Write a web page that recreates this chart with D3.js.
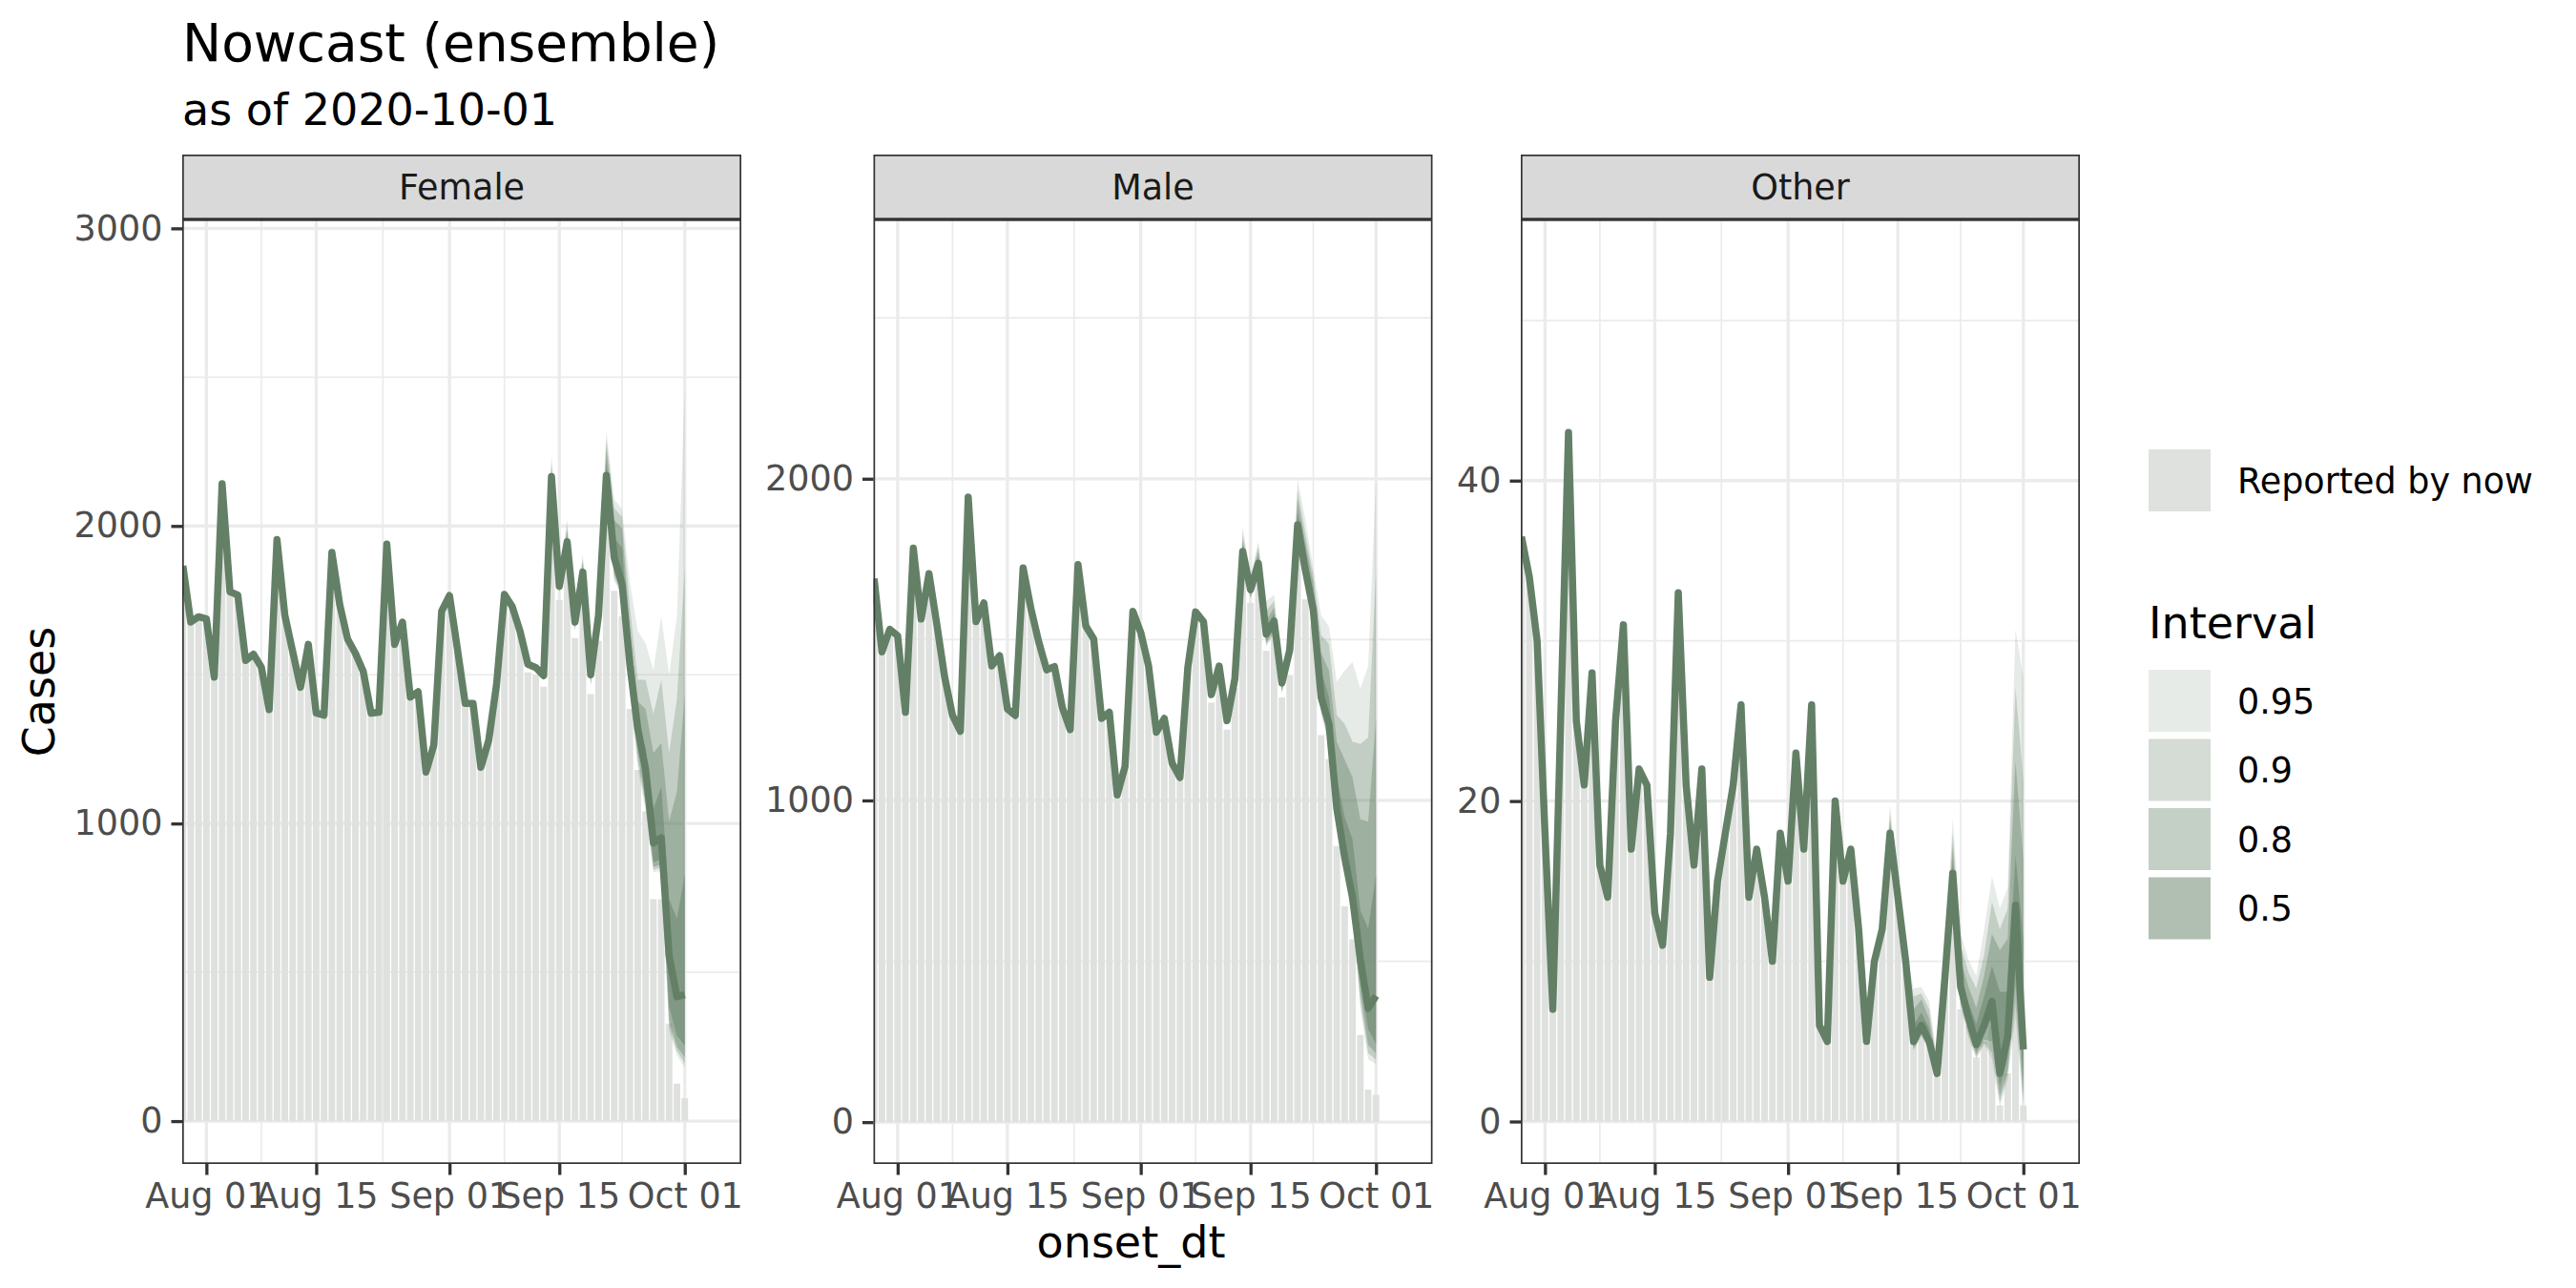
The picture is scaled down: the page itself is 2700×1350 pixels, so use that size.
<!DOCTYPE html>
<html>
<head>
<meta charset="utf-8">
<script src="https://cdn.jsdelivr.net/npm/d3@7"></script>
<style>
  body { margin: 0; background: #fff; }
  text { font-family: "DejaVu Sans", sans-serif; }
</style>
</head>
<body>
<svg id="chart" width="2700" height="1350"></svg>
<script>
// ---- data (one value per onset day, 2020-07-29 .. 2020-10-01) ----
const firstDay = '2020-07-29'
const lastDay = '2020-10-01'

const femaleNowcast = [
  1866, 1677, 1695, 1688, 1492, 2142, 1779, 1768, 1548, 1569, 1526, 1383, 1954, 1700, 1578, 1458,
  1602, 1371, 1364, 1911, 1736, 1620, 1572, 1511, 1371, 1374, 1939, 1602, 1677, 1425, 1443, 1173,
  1264, 1714, 1766, 1588, 1404, 1404, 1189, 1280, 1468, 1770, 1729, 1645, 1535, 1524, 1497, 2166,
  1797, 1947, 1677, 1845, 1500, 1700, 2170, 1893, 1805, 1533, 1320, 1182, 935, 952, 555, 418, 425
]
const femaleReported = [
  1866, 1677, 1695, 1688, 1492, 2142, 1779, 1768, 1548, 1569, 1526, 1383, 1954, 1700, 1578, 1458,
  1602, 1371, 1364, 1911, 1736, 1620, 1572, 1511, 1371, 1374, 1939, 1602, 1677, 1425, 1443, 1173,
  1264, 1714, 1766, 1588, 1404, 1404, 1189, 1280, 1468, 1770, 1729, 1645, 1508, 1500, 1460, 2125,
  1751, 1900, 1623, 1790, 1435, 1614, 2060, 1782, 1696, 1385, 1180, 1041, 746, 746, 328, 126, 77
]
const maleNowcast = [
  1690, 1462, 1532, 1512, 1274, 1784, 1564, 1705, 1547, 1383, 1264, 1215, 1943, 1556, 1614, 1418,
  1450, 1284, 1264, 1723, 1596, 1492, 1406, 1416, 1289, 1220, 1733, 1542, 1502, 1255, 1274, 1017,
  1106, 1588, 1522, 1418, 1212, 1255, 1116, 1071, 1413, 1586, 1556, 1329, 1418, 1248, 1378, 1774,
  1655, 1737, 1517, 1558, 1365, 1467, 1857, 1715, 1592, 1320, 1238, 975, 823, 699, 506, 354, 393
]
const maleReported = [
  1690, 1462, 1532, 1512, 1274, 1784, 1564, 1705, 1547, 1383, 1264, 1215, 1943, 1556, 1614, 1418,
  1450, 1284, 1264, 1723, 1596, 1492, 1406, 1416, 1289, 1220, 1733, 1542, 1502, 1255, 1274, 1017,
  1106, 1588, 1522, 1418, 1212, 1255, 1116, 1071, 1413, 1586, 1556, 1304, 1395, 1220, 1350, 1740,
  1614, 1700, 1465, 1520, 1320, 1390, 1790, 1625, 1546, 1203, 1129, 858, 671, 568, 271, 101, 85
]
const otherNowcast = [
  36.5, 34, 30, 18, 7, 25, 43, 25, 21, 28, 16, 14, 25, 31, 17, 22,
  21, 13, 11, 18, 33, 21, 16, 22, 9, 15, 18, 21, 26, 14, 17, 14,
  10, 18, 15, 23, 17, 26, 6, 5, 20, 15, 17, 12, 5, 10, 12, 18,
  14, 10, 5, 6, 5, 3, 9, 15.5, 8.4, 6.5, 4.8, 6, 7.5, 3, 5.3, 13.5, 4.5
]
const otherReported = [
  36.5, 34, 30, 18, 7, 25, 43, 25, 21, 28, 16, 14, 25, 31, 17, 22,
  21, 13, 11, 18, 33, 21, 16, 22, 9, 15, 18, 21, 26, 14, 17, 14,
  10, 18, 15, 23, 17, 26, 6, 5, 20, 15, 17, 12, 5, 10, 12, 18,
  14, 10, 5, 6, 5, 3, 9, 14, 7, 6, 4, 5, 6, 1, 3, 10, 1
]

// interval rows: date, lo95, lo90, lo80, lo50, hi50, hi80, hi90, hi95
const femaleIntervals = [
  ['2020-09-13', 1490, 1492, 1494, 1495, 1500, 1502, 1504, 1507],
  ['2020-09-14', 2125, 2130, 2140, 2150, 2185, 2200, 2220, 2240],
  ['2020-09-15', 1772, 1778, 1783, 1790, 1805, 1812, 1820, 1830],
  ['2020-09-16', 1908, 1915, 1922, 1932, 1965, 1985, 2000, 2020],
  ['2020-09-17', 1645, 1652, 1657, 1665, 1690, 1700, 1710, 1720],
  ['2020-09-18', 1805, 1812, 1820, 1830, 1862, 1878, 1890, 1905],
  ['2020-09-19', 1460, 1468, 1475, 1485, 1517, 1532, 1545, 1560],
  ['2020-09-20', 1650, 1660, 1668, 1680, 1722, 1745, 1760, 1775],
  ['2020-09-21', 2090, 2100, 2115, 2135, 2215, 2260, 2290, 2320],
  ['2020-09-22', 1815, 1825, 1840, 1860, 1960, 2020, 2060, 2090],
  ['2020-09-23', 1765, 1770, 1775, 1785, 1926, 1991, 2030, 2057],
  ['2020-09-24', 1434, 1450, 1465, 1490, 1580, 1650, 1729, 1811],
  ['2020-09-25', 1188, 1210, 1235, 1275, 1345, 1410, 1483, 1647],
  ['2020-09-26', 1041, 1058, 1075, 1106, 1254, 1385, 1483, 1606],
  ['2020-09-27', 836, 845, 855, 870, 1049, 1237, 1368, 1516],
  ['2020-09-28', 840, 852, 862, 880, 1123, 1270, 1483, 1696],
  ['2020-09-29', 303, 320, 340, 385, 746, 1008, 1237, 1500],
  ['2020-09-30', 221, 235, 250, 287, 680, 1106, 1418, 1696],
  ['2020-10-01', 180, 195, 215, 254, 828, 1434, 1860, 2467]
]
const maleIntervals = [
  ['2020-09-13', 1372, 1374, 1375, 1376, 1381, 1383, 1385, 1388],
  ['2020-09-14', 1730, 1738, 1745, 1755, 1795, 1810, 1830, 1850],
  ['2020-09-15', 1625, 1630, 1635, 1642, 1668, 1680, 1690, 1700],
  ['2020-09-16', 1700, 1706, 1712, 1720, 1755, 1775, 1790, 1805],
  ['2020-09-17', 1478, 1484, 1490, 1500, 1538, 1560, 1590, 1620],
  ['2020-09-18', 1515, 1522, 1530, 1540, 1580, 1600, 1620, 1640],
  ['2020-09-19', 1330, 1336, 1342, 1350, 1380, 1392, 1405, 1420],
  ['2020-09-20', 1428, 1435, 1440, 1450, 1485, 1500, 1515, 1530],
  ['2020-09-21', 1790, 1800, 1810, 1825, 1895, 1935, 1965, 2000],
  ['2020-09-22', 1655, 1665, 1675, 1690, 1760, 1800, 1830, 1873],
  ['2020-09-23', 1545, 1552, 1560, 1570, 1635, 1675, 1700, 1721],
  ['2020-09-24', 1265, 1275, 1285, 1300, 1403, 1459, 1514, 1576],
  ['2020-09-25', 1175, 1185, 1195, 1210, 1320, 1403, 1486, 1541],
  ['2020-09-26', 930, 935, 940, 950, 1072, 1182, 1265, 1369],
  ['2020-09-27', 768, 775, 785, 800, 948, 1127, 1238, 1403],
  ['2020-09-28', 630, 642, 655, 670, 879, 1072, 1182, 1431],
  ['2020-09-29', 354, 375, 400, 440, 658, 941, 1176, 1348],
  ['2020-09-30', 195, 215, 240, 290, 602, 934, 1196, 1417],
  ['2020-10-01', 181, 195, 215, 243, 768, 1251, 1707, 2000]
]
const otherIntervals = [
  ['2020-09-13', 11.6, 11.7, 11.8, 11.9, 12.1, 12.2, 12.3, 12.4],
  ['2020-09-14', 16.9, 17.1, 17.3, 17.6, 18.4, 18.8, 19.2, 19.8],
  ['2020-09-15', 13.4, 13.5, 13.6, 13.8, 14.2, 14.4, 14.6, 14.8],
  ['2020-09-16', 9.4, 9.5, 9.6, 9.8, 10.2, 10.4, 10.6, 10.8],
  ['2020-09-17', 4.4, 4.5, 4.6, 4.8, 6.0, 7.0, 7.8, 8.3],
  ['2020-09-18', 5.3, 5.4, 5.5, 5.7, 6.8, 7.6, 8.0, 8.4],
  ['2020-09-19', 4.4, 4.5, 4.6, 4.8, 5.8, 6.4, 7.0, 7.5],
  ['2020-09-20', 2.6, 2.7, 2.8, 2.9, 3.2, 3.5, 3.7, 3.9],
  ['2020-09-21', 8.4, 8.5, 8.6, 8.8, 9.4, 9.8, 10.2, 10.5],
  ['2020-09-22', 14.6, 14.7, 14.8, 15.0, 16.3, 17.2, 18.0, 18.9],
  ['2020-09-23', 7.1, 7.3, 7.5, 7.9, 9.2, 10.1, 11.0, 11.7],
  ['2020-09-24', 5.2, 5.4, 5.6, 6.0, 7.4, 8.4, 9.3, 10.1],
  ['2020-09-25', 3.9, 4.0, 4.2, 4.4, 6.1, 7.1, 8.3, 9.1],
  ['2020-09-26', 4.8, 4.9, 5.1, 5.5, 7.8, 9.1, 10.4, 12.0],
  ['2020-09-27', 3.9, 4.3, 5.0, 6.5, 9.7, 11.7, 13.7, 15.3],
  ['2020-09-28', 0.9, 1.2, 1.6, 2.2, 8.1, 10.7, 12.0, 13.3],
  ['2020-09-29', 2.6, 2.9, 3.2, 4.0, 8.1, 11.4, 13.3, 14.6],
  ['2020-09-30', 6.5, 7.4, 8.5, 10.7, 16.6, 22.5, 27.1, 30.7],
  ['2020-10-01', 0.9, 1.2, 1.6, 2.5, 11.4, 16.3, 21.2, 27.7]
]

const panelNames = ['Female', 'Male', 'Other']
const intervalLevels = ['0.95', '0.9', '0.8', '0.5']
const xTickDates = ['2020-08-01', '2020-08-15', '2020-09-01', '2020-09-15', '2020-10-01']
const xTickLabels = ['Aug 01', 'Aug 15', 'Sep 01', 'Sep 15', 'Oct 01']
const xMinorDates = ['2020-08-08 00', '2020-08-23 12', '2020-09-08 00', '2020-09-23 00']
const femaleTicks = [0, 1000, 2000, 3000]
const femaleMinor = [500, 1500, 2500]
const maleTicks = [0, 1000, 2000]
const maleMinor = [500, 1500, 2500]
const otherTicks = [0, 20, 40]
const otherMinor = [10, 30, 50]

// ---- layout ----
const width = 2700
    , height = 1350
    , panelWidth = 586
    , panelLefts = [191, 915.5, 1594]
    , panelTop = 230
    , panelBottom = 1220
    , stripTop = 162
    , tickLen = 11.5
    , tickPad = 9
    , lineBase = 3.3
    , fillGreen = '#638067'
    , reportedFill = '#dfe1de'
    , gridColor = '#ebebeb'
    , darkLine = '#333333'
    , bandAlpha = [0.16, 0.28, 0.38, 0.5]
    , parseDay = d3.timeParse('%Y-%m-%d')
    , parseHour = d3.timeParse('%Y-%m-%d %H')
    , xStart = d3.timeHour.offset(parseDay('2020-08-01'), -74)
    , xEnd = d3.timeHour.offset(parseDay('2020-10-01'), 173)
    , days = d3.timeDay.range(parseDay(firstDay), d3.timeDay.offset(parseDay(lastDay), 1))

const panels = [
    { nowcast: femaleNowcast, reported: femaleReported, intervals: femaleIntervals,
      yDomain: [-144, 3030], ticks: femaleTicks, minor: femaleMinor }
  , { nowcast: maleNowcast, reported: maleReported, intervals: maleIntervals,
      yDomain: [-130, 2806], ticks: maleTicks, minor: maleMinor }
  , { nowcast: otherNowcast, reported: otherReported, intervals: otherIntervals,
      yDomain: [-2.65, 56.3], ticks: otherTicks, minor: otherMinor }
  ]

const svg = d3.select('#chart')
svg.append('rect').attr('width', width).attr('height', height).attr('fill', '#fff')

const drawPanel = (p, i) => {
    const left = panelLefts[i]
    const x = d3.scaleTime().domain([xStart, xEnd]).range([left, left + panelWidth])
    const y = d3.scaleLinear().domain(p.yDomain).range([panelBottom, panelTop])
    const barW = (x(days[1]) - x(days[0])) * 0.84

    svg.append('clipPath').attr('id', `clip-${i}`)
        .append('rect')
        .attr('x', left).attr('y', panelTop)
        .attr('width', panelWidth).attr('height', panelBottom - panelTop)

    const g = svg.append('g').attr('clip-path', `url(#clip-${i})`)

    // grid
    g.selectAll('line.minor-x')
        .data(xMinorDates.map(parseHour))
        .join('line')
        .attr('x1', x).attr('x2', x)
        .attr('y1', panelTop).attr('y2', panelBottom)
        .attr('stroke', gridColor).attr('stroke-width', lineBase / 2)
    g.selectAll('line.minor-y')
        .data(p.minor)
        .join('line')
        .attr('x1', left).attr('x2', left + panelWidth)
        .attr('y1', y).attr('y2', y)
        .attr('stroke', gridColor).attr('stroke-width', lineBase / 2)
    g.selectAll('line.major-x')
        .data(xTickDates.map(parseDay))
        .join('line')
        .attr('x1', x).attr('x2', x)
        .attr('y1', panelTop).attr('y2', panelBottom)
        .attr('stroke', gridColor).attr('stroke-width', lineBase)
    g.selectAll('line.major-y')
        .data(p.ticks)
        .join('line')
        .attr('x1', left).attr('x2', left + panelWidth)
        .attr('y1', y).attr('y2', y)
        .attr('stroke', gridColor).attr('stroke-width', lineBase)

    // reported bars
    g.selectAll('rect.bar')
        .data(p.reported)
        .join('rect')
        .attr('x', (d, j) => x(days[j]) - barW / 2)
        .attr('width', barW)
        .attr('y', d => y(d))
        .attr('height', d => y(0) - y(d))
        .attr('fill', reportedFill)

    // interval ribbons, widest first
    const rows = p.intervals.map(r => ({ date: parseDay(r[0]), v: r.slice(1) }))
    intervalLevels.forEach((lvl, k) => {
        const area = d3.area()
            .x(d => x(d.date))
            .y0(d => y(d.v[k]))
            .y1(d => y(d.v[7 - k]))
        g.append('path')
            .attr('d', area(rows))
            .attr('fill', fillGreen)
            .attr('fill-opacity', bandAlpha[k])
    })

    // nowcast line
    const line = d3.line().x((d, j) => x(days[j])).y(d => y(d))
    g.append('path')
        .attr('d', line(p.nowcast))
        .attr('fill', 'none')
        .attr('stroke', fillGreen)
        .attr('stroke-width', 7.5)
        .attr('stroke-linejoin', 'round')

    // border
    svg.append('rect')
        .attr('x', left + 0.85).attr('y', panelTop + 0.85)
        .attr('width', panelWidth - 1.7).attr('height', panelBottom - panelTop - 1.7)
        .attr('fill', 'none').attr('stroke', darkLine).attr('stroke-width', 1.7)

    // strip
    svg.append('rect')
        .attr('x', left + 0.85).attr('y', stripTop + 0.85)
        .attr('width', panelWidth - 1.7).attr('height', panelTop - stripTop - 1.7)
        .attr('fill', '#d9d9d9').attr('stroke', darkLine).attr('stroke-width', 1.7)
    svg.append('text')
        .attr('x', left + panelWidth / 2)
        .attr('y', (stripTop + panelTop) / 2 + 13)
        .attr('text-anchor', 'middle')
        .attr('font-size', 36.5)
        .attr('fill', '#1a1a1a')
        .text(panelNames[i])

    // axes
    const styleAxis = a => {
        a.select('.domain').remove()
        a.selectAll('.tick line').attr('stroke', darkLine).attr('stroke-width', lineBase)
        a.selectAll('.tick text')
            .attr('fill', '#4d4d4d')
            .attr('font-size', 36.5)
            .attr('font-family', '"DejaVu Sans", sans-serif')
    }
    svg.append('g')
        .attr('transform', `translate(${left},0)`)
        .call(d3.axisLeft(y).tickValues(p.ticks).tickFormat(d3.format('d'))
            .tickSize(tickLen).tickPadding(tickPad))
        .call(styleAxis)
    svg.append('g')
        .attr('transform', `translate(0,${panelBottom})`)
        .call(d3.axisBottom(x).tickValues(xTickDates.map(parseDay))
            .tickFormat((d, j) => xTickLabels[j])
            .tickSize(tickLen).tickPadding(tickPad))
        .call(styleAxis)
}

panels.forEach(drawPanel)

// titles
svg.append('text').attr('x', 191).attr('y', 64)
    .attr('font-size', 55).text('Nowcast (ensemble)')
svg.append('text').attr('x', 191).attr('y', 131)
    .attr('font-size', 46).text('as of 2020-10-01')
svg.append('text')
    .attr('x', (panelLefts[0] + panelLefts[2] + panelWidth) / 2).attr('y', 1318)
    .attr('text-anchor', 'middle').attr('font-size', 46).text('onset_dt')
svg.append('text')
    .attr('transform', `translate(57,${(panelTop + panelBottom) / 2}) rotate(-90)`)
    .attr('text-anchor', 'middle').attr('font-size', 46).text('Cases')

// legend
const legendX = 2252
    , labelX = 2345
    , keySize = 65
    , keyStep = 72.5
    , intervalTop = 702
svg.append('rect').attr('x', legendX).attr('y', 471)
    .attr('width', keySize).attr('height', keySize).attr('fill', reportedFill)
svg.append('text').attr('x', labelX).attr('y', 471 + keySize / 2 + 13)
    .attr('font-size', 36.5).text('Reported by now')
svg.append('text').attr('x', legendX).attr('y', 669)
    .attr('font-size', 46).text('Interval')
intervalLevels.forEach((lvl, k) => {
    const top = intervalTop + k * keyStep
    svg.append('rect').attr('x', legendX).attr('y', top)
        .attr('width', keySize).attr('height', keySize)
        .attr('fill', fillGreen).attr('fill-opacity', bandAlpha[k])
    svg.append('text').attr('x', labelX).attr('y', top + keySize / 2 + 13)
        .attr('font-size', 36.5).text(lvl)
})
</script>
</body>
</html>
